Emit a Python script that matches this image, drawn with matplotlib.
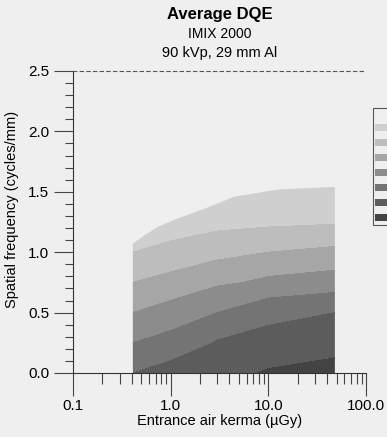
import numpy as np
import matplotlib
matplotlib.use('Agg')
import matplotlib.pyplot as plt
from matplotlib.patches import Polygon, Rectangle
from matplotlib.ticker import FixedLocator, MultipleLocator, NullFormatter

plt.rcParams['font.family'] = ['Liberation Sans', 'DejaVu Sans']

# ---- data ----
dose = [0.41, 1.0, 3.0, 10.0, 48.0]              # uGy
freq = [0.0, 0.25, 0.5, 0.75, 1.0, 1.25, 1.6]    # cycles/mm
dqe = [
    [0.25, 0.27, 0.29, 0.305, 0.32],
    [0.20, 0.22, 0.255, 0.27, 0.28],
    [0.15, 0.17, 0.20, 0.235, 0.25],
    [0.10, 0.12, 0.143, 0.162, 0.175],
    [0.05, 0.062, 0.085, 0.10, 0.113],
    [0.02, 0.03, 0.035, 0.04, 0.045],
    [0.0, 0.01, 0.01, 0.01, 0.01],
]
levels = [0.0, 0.05, 0.10, 0.15, 0.20, 0.25, 0.30, 0.40]
band_colors = ['#cfcfcf', '#bdbdbd', '#a6a6a6', '#8c8c8c', '#747474', '#5c5c5c', '#434343']

# upper limit of measured frequency vs dose
edge_dose = [0.41, 0.54, 0.74, 1.10, 2.39, 4.5, 12.9, 48.0]
edge_freq = [1.07, 1.14, 1.21, 1.27, 1.37, 1.46, 1.52, 1.54]

x_ticks = [0.1, 1.0, 10.0, 100.0]
x_ticklabels = ['0.1', '1.0', '10.0', '100.0']
y_ticks = [0.0, 0.5, 1.0, 1.5, 2.0, 2.5]
y_ticklabels = ['0.0', '0.5', '1.0', '1.5', '2.0', '2.5']

# ---- figure ----
W, H = 387, 437
bg = '#efefef'
fig = plt.figure(figsize=(W / 100, H / 100), dpi=100, facecolor=bg)
ax = fig.add_axes([73 / W, 1 - 373 / H, (366 - 73) / W, (373 - 71) / H])
ax.set_facecolor(bg)
ax.set_xscale('log')
ax.set_xlim(0.1, 100)
ax.set_ylim(0, 2.5)

D, F = np.meshgrid(dose, freq)
cs = ax.contourf(D, F, np.array(dqe), levels=levels, colors=band_colors)
verts = [(edge_dose[0], 0.0)] + list(zip(edge_dose, edge_freq)) + [(edge_dose[-1], 0.0)]
clip = Polygon(verts, closed=True, transform=ax.transData, facecolor='none', edgecolor='none')
ax.add_patch(clip)
cs.set_clip_path(clip)

# spines
ax.spines['right'].set_visible(False)
ax.spines['top'].set_linestyle((0, (3, 3)))
ax.spines['top'].set_color('#555555')
ax.spines['top'].set_linewidth(0.8)
for s in ['left', 'bottom']:
    ax.spines[s].set_color('#333333')
    ax.spines[s].set_linewidth(0.8)

# ticks
ax.xaxis.set_major_locator(FixedLocator(x_ticks))
ax.set_xticklabels(x_ticklabels)
minors = [m * 10.0 ** e for e in (-1, 0, 1) for m in range(2, 10)]
ax.xaxis.set_minor_locator(FixedLocator(minors))
ax.xaxis.set_minor_formatter(NullFormatter())
ax.yaxis.set_major_locator(FixedLocator(y_ticks))
ax.set_yticklabels(y_ticklabels)
ax.yaxis.set_minor_locator(MultipleLocator(0.1))
ax.tick_params(axis='x', which='major', direction='out', length=16.5, width=0.8,
               color='#444444', labelsize=11, pad=2, top=False)
ax.tick_params(axis='x', which='minor', direction='out', length=8, width=0.8,
               color='#444444', top=False)
ax.tick_params(axis='y', which='major', direction='out', length=14, width=0.8,
               color='#444444', labelsize=11, pad=3, right=False)
ax.tick_params(axis='y', which='minor', direction='out', length=6, width=0.8,
               color='#444444', right=False)

ax.set_xlabel('Entrance air kerma (µGy)', fontsize=10.5, labelpad=1)
ax.set_ylabel('Spatial frequency (cycles/mm)', fontsize=10.5)
ax.yaxis.set_label_coords(-(73 - 19) / (366 - 73), 0.54)

# titles
cx = (73 + 366) / 2 / W
fig.text(cx, 1 - 15 / H, 'Average DQE', ha='center', va='center', fontsize=12, fontweight='bold')
fig.text(cx, 1 - 34 / H, 'IMIX 2000', ha='center', va='center', fontsize=10)
fig.text(cx, 1 - 53 / H, '90 kVp, 29 mm Al', ha='center', va='center', fontsize=10.5)

# legend key: only its left part (swatches) is visible at the right edge, as in the reference
fig.patches.append(Rectangle((373 / W, 1 - 225 / H), 20 / W, 117 / H, transform=fig.transFigure,
                             facecolor=bg, edgecolor='#555555', linewidth=0.8, figure=fig))
for i, c in enumerate(band_colors):
    yc = 127 + 15 * i
    fig.patches.append(Rectangle((375 / W, 1 - (yc + 3.5) / H), 15 / W, 7 / H,
                                 transform=fig.transFigure, facecolor=c, edgecolor='none',
                                 figure=fig))

fig.savefig('out.png', dpi=100, facecolor=bg)
